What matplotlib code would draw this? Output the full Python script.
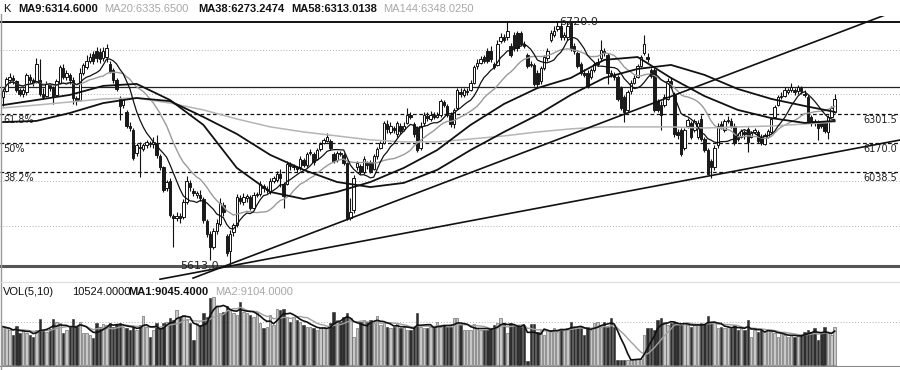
import numpy as np
import pandas as pd
import matplotlib
matplotlib.use("Agg")
import matplotlib.pyplot as plt

# --- daily K-line data ---
opens = [6380, 6405, 6455, 6468, 6450, 6410, 6395, 6400, 6470, 6455,
         6450, 6455, 6395, 6385, 6435, 6420, 6390, 6445, 6510, 6470,
         6480, 6455, 6375, 6365, 6490, 6515, 6545, 6575, 6590, 6585,
         6555, 6560, 6530, 6500, 6455, 6370, 6345, 6310, 6250, 6230,
         6125, 6155, 6145, 6160, 6170, 6165, 6170, 6110, 6060, 5965,
         6000, 5840, 5830, 5840, 5835, 5905, 5990, 5955, 5935, 5935,
         5915, 5815, 5760, 5700, 5770, 5805, 5890, 5750, 5680, 5765,
         5800, 5920, 5905, 5920, 5925, 5875, 5935, 5940, 5975, 5960,
         5950, 6000, 6005, 6030, 5985, 5985, 6075, 6060, 6060, 6060,
         6095, 6070, 6125, 6120, 6100, 6145, 6170, 6180, 6180, 6120,
         6095, 6125, 6115, 6080, 5830, 5865, 6060, 6065, 6040, 6080,
         6085, 6055, 6110, 6150, 6170, 6255, 6220, 6240, 6210, 6250,
         6235, 6260, 6300, 6255, 6240, 6150, 6260, 6295, 6280, 6300,
         6290, 6300, 6355, 6340, 6300, 6255, 6330, 6400, 6390, 6400,
         6410, 6445, 6520, 6535, 6560, 6590, 6590, 6530, 6525, 6635,
         6650, 6650, 6610, 6660, 6670, 6670, 6620, 6570, 6530, 6525,
         6490, 6450, 6510, 6555, 6640, 6660, 6690, 6700, 6650, 6650,
         6715, 6610, 6580, 6530, 6490, 6490, 6470, 6500, 6530, 6555,
         6590, 6570, 6490, 6480, 6470, 6420, 6380, 6320, 6405, 6445,
         6470, 6520, 6580, 6560, 6500, 6500, 6360, 6345, 6345, 6370,
         6450, 6390, 6220, 6230, 6150, 6250, 6260, 6230, 6200, 6280,
         6190, 6140, 6090, 6060, 6160, 6255, 6230, 6270, 6270, 6250,
         6200, 6200, 6220, 6235, 6200, 6220, 6220, 6200, 6165, 6200,
         6220, 6290, 6345, 6380, 6385, 6400, 6410, 6410, 6405, 6420,
         6395, 6380, 6290, 6270, 6265, 6260, 6260, 6220, 6290, 6310]
highs = [6415, 6470, 6490, 6480, 6455, 6420, 6420, 6490, 6485, 6465,
         6555, 6550, 6420, 6450, 6445, 6430, 6460, 6525, 6530, 6500,
         6490, 6470, 6385, 6510, 6535, 6570, 6580, 6590, 6605, 6600,
         6605, 6620, 6545, 6510, 6465, 6385, 6375, 6320, 6265, 6240,
         6170, 6175, 6170, 6185, 6180, 6200, 6205, 6120, 6065, 6005,
         6010, 5850, 5860, 5855, 5915, 6020, 6005, 5965, 5955, 5960,
         5925, 5825, 5770, 5785, 5825, 5920, 5905, 5760, 5775, 5810,
         5940, 5935, 5945, 5940, 5935, 5950, 5950, 6000, 5985, 5975,
         6010, 6020, 6045, 6055, 5995, 6090, 6085, 6075, 6065, 6110,
         6105, 6130, 6145, 6130, 6150, 6175, 6195, 6215, 6190, 6130,
         6135, 6135, 6125, 6085, 5920, 6025, 6090, 6075, 6110, 6090,
         6095, 6120, 6155, 6180, 6270, 6275, 6265, 6250, 6270, 6260,
         6265, 6330, 6310, 6265, 6250, 6265, 6310, 6310, 6315, 6310,
         6310, 6370, 6365, 6350, 6310, 6330, 6420, 6420, 6420, 6420,
         6455, 6525, 6550, 6565, 6570, 6600, 6610, 6540, 6640, 6670,
         6665, 6720, 6625, 6675, 6680, 6680, 6635, 6580, 6545, 6535,
         6500, 6520, 6570, 6600, 6685, 6700, 6725, 6715, 6675, 6720,
         6725, 6625, 6590, 6540, 6505, 6500, 6510, 6540, 6555, 6640,
         6600, 6580, 6500, 6495, 6480, 6430, 6390, 6410, 6455, 6480,
         6530, 6570, 6660, 6580, 6510, 6510, 6370, 6360, 6395, 6465,
         6470, 6400, 6235, 6240, 6240, 6285, 6270, 6280, 6275, 6300,
         6200, 6150, 6100, 6160, 6260, 6270, 6280, 6295, 6285, 6260,
         6215, 6235, 6230, 6245, 6225, 6240, 6230, 6210, 6215, 6235,
         6290, 6345, 6390, 6400, 6425, 6420, 6445, 6420, 6435, 6430,
         6410, 6390, 6300, 6280, 6275, 6270, 6270, 6300, 6340, 6395]
lows = [6340, 6400, 6445, 6440, 6400, 6385, 6380, 6390, 6445, 6430,
        6445, 6385, 6370, 6380, 6405, 6350, 6385, 6440, 6460, 6455,
        6440, 6350, 6345, 6360, 6480, 6505, 6535, 6530, 6540, 6535,
        6545, 6540, 6490, 6445, 6405, 6275, 6330, 6240, 6225, 6095,
        6110, 6015, 6135, 6150, 6155, 6150, 6105, 6050, 5950, 5955,
        5835, 5700, 5815, 5810, 5825, 5895, 5955, 5930, 5920, 5910,
        5810, 5745, 5640, 5690, 5760, 5795, 5840, 5660, 5613, 5750,
        5790, 5895, 5890, 5905, 5865, 5865, 5925, 5930, 5950, 5945,
        5940, 5990, 5995, 5970, 5875, 5980, 6050, 6050, 6040, 6050,
        6060, 6060, 6115, 6070, 6095, 6135, 6165, 6175, 6140, 6080,
        6085, 6110, 6070, 5820, 5820, 5855, 6050, 6030, 6030, 6055,
        6035, 6050, 6100, 6145, 6165, 6215, 6210, 6215, 6200, 6210,
        6225, 6255, 6280, 6200, 6130, 6140, 6250, 6270, 6270, 6280,
        6285, 6290, 6335, 6290, 6245, 6240, 6320, 6380, 6380, 6390,
        6405, 6440, 6505, 6530, 6535, 6535, 6540, 6505, 6520, 6625,
        6630, 6640, 6560, 6590, 6590, 6610, 6600, 6510, 6515, 6430,
        6420, 6440, 6500, 6545, 6630, 6650, 6680, 6640, 6640, 6640,
        6590, 6575, 6510, 6480, 6470, 6420, 6460, 6495, 6520, 6545,
        6565, 6440, 6470, 6455, 6360, 6320, 6265, 6310, 6395, 6440,
        6465, 6515, 6570, 6540, 6465, 6310, 6310, 6230, 6335, 6365,
        6420, 6200, 6190, 6110, 6140, 6240, 6190, 6220, 6190, 6180,
        6130, 6025, 6010, 6050, 6150, 6235, 6220, 6260, 6240, 6160,
        6180, 6195, 6190, 6130, 6195, 6210, 6170, 6160, 6160, 6195,
        6215, 6285, 6340, 6370, 6380, 6395, 6400, 6390, 6395, 6395,
        6380, 6260, 6250, 6250, 6185, 6240, 6215, 6190, 6285, 6305]
closes = [6405, 6460, 6470, 6455, 6410, 6395, 6410, 6480, 6455, 6445,
          6530, 6395, 6380, 6440, 6420, 6385, 6450, 6515, 6470, 6490,
          6455, 6375, 6360, 6490, 6525, 6545, 6560, 6545, 6555, 6550,
          6590, 6600, 6495, 6455, 6415, 6340, 6365, 6250, 6240, 6105,
          6160, 6150, 6160, 6175, 6165, 6175, 6115, 6060, 5960, 5995,
          5845, 5830, 5840, 5830, 5905, 6000, 5970, 5945, 5945, 5920,
          5820, 5760, 5700, 5770, 5810, 5900, 5860, 5670, 5760, 5800,
          5925, 5910, 5925, 5930, 5875, 5935, 5940, 5985, 5965, 5960,
          6000, 6010, 6030, 6010, 5930, 6075, 6065, 6065, 6055, 6100,
          6070, 6120, 6130, 6085, 6140, 6165, 6185, 6200, 6150, 6090,
          6125, 6120, 6080, 5830, 5860, 6010, 6080, 6040, 6100, 6070,
          6045, 6110, 6145, 6170, 6260, 6235, 6250, 6230, 6260, 6225,
          6250, 6300, 6290, 6210, 6140, 6250, 6300, 6285, 6300, 6290,
          6300, 6360, 6345, 6300, 6255, 6320, 6410, 6395, 6410, 6405,
          6445, 6515, 6535, 6550, 6545, 6545, 6550, 6515, 6620, 6650,
          6640, 6680, 6570, 6600, 6600, 6620, 6610, 6520, 6525, 6440,
          6440, 6510, 6560, 6590, 6670, 6680, 6700, 6650, 6660, 6700,
          6600, 6590, 6520, 6490, 6480, 6430, 6500, 6530, 6540, 6595,
          6580, 6490, 6480, 6470, 6370, 6330, 6310, 6400, 6445, 6465,
          6520, 6560, 6620, 6550, 6475, 6320, 6320, 6300, 6380, 6450,
          6440, 6210, 6205, 6120, 6230, 6275, 6200, 6270, 6260, 6190,
          6140, 6030, 6060, 6150, 6250, 6245, 6270, 6275, 6250, 6170,
          6190, 6225, 6210, 6175, 6215, 6230, 6180, 6170, 6205, 6225,
          6280, 6335, 6380, 6385, 6410, 6410, 6425, 6400, 6425, 6405,
          6390, 6270, 6260, 6260, 6240, 6250, 6225, 6290, 6330, 6370]
volumes = [10700, 10200, 9800, 8400, 10900, 8800, 9800, 9000, 8400, 7900,
           9800, 12700, 9800, 9300, 10000, 12700, 12100, 11800, 8800, 9800,
           10700, 12700, 10700, 12100, 8800, 9000, 8400, 7400, 11600, 10700,
           11400, 11200, 11600, 10700, 11400, 11600, 10700, 10200, 9800, 10700,
           9800, 11200, 13700, 10700, 7900, 9800, 11600, 10200, 11800, 12100,
           13000, 12500, 15300, 13500, 13900, 12500, 11600, 7000, 11600, 11200,
           14400, 13500, 18600, 19000, 16200, 14400, 14900, 16600, 15300, 14400,
           13900, 17600, 14900, 14400, 13900, 13500, 14900, 11600, 10200, 10700,
           13900, 11200, 15700, 15300, 15700, 13500, 12100, 13500, 12500, 12100,
           11200, 10700, 10700, 10200, 9800, 10200, 10700, 10200, 11600, 14900,
           12500, 12100, 13500, 14400, 13000, 7900, 10200, 12100, 12500, 12100,
           12500, 11600, 13700, 11200, 11600, 10700, 10200, 10700, 11600, 10200,
           10700, 9800, 9800, 10700, 14400, 10700, 10200, 10200, 10700, 10200,
           12100, 10700, 11200, 10700, 10700, 13000, 13000, 11200, 9800, 9800,
           9800, 11300, 10200, 9800, 9800, 9800, 10200, 11200, 11600, 13200,
           11600, 8800, 11600, 11200, 11200, 10700, 11200, 1200, 11300, 11300,
           9300, 9800, 8400, 9800, 9800, 10200, 9800, 9800, 9800, 10200,
           12100, 10700, 10200, 10700, 8400, 10700, 9800, 11600, 12100, 10700,
           12100, 10700, 13000, 10700, 1300, 1300, 1400, 1500, 1600, 1600,
           1700, 1800, 8400, 10200, 10200, 9800, 12500, 13000, 12100, 11200,
           11600, 12100, 11200, 11200, 11600, 11200, 10700, 11200, 11200, 11600,
           11400, 13700, 11600, 11600, 10200, 10700, 10200, 10700, 10200, 11200,
           9800, 10200, 9800, 12500, 7900, 9800, 9300, 9800, 9300, 9800,
           9300, 8800, 7900, 8800, 8400, 7900, 8400, 7900, 8100, 8400,
           9300, 9800, 9300, 10200, 7000, 8800, 10700, 8800, 8400, 10524]

# long moving averages, read at every 10th bar
ma_idx = [0, 10, 20, 30, 40, 50, 60, 70, 80, 90, 100, 110, 120,
          130, 140, 150, 160, 170, 180, 190, 200, 210, 220, 230, 240, 249]
ma38 = [6343, 6366, 6389, 6430, 6439, 6366, 6253, 6058, 5949, 5917, 5949, 5994, 6058,
        6139, 6253, 6348, 6420, 6466, 6548, 6561, 6466, 6384, 6321, 6284, 6262, 6271]
ma58 = [6266, 6271, 6307, 6352, 6375, 6361, 6289, 6212, 6117, 6049, 5994, 5971, 5990,
        6049, 6139, 6221, 6298, 6389, 6466, 6507, 6525, 6480, 6416, 6371, 6339, 6312]
ma144 = [6330, 6343, 6357, 6371, 6375, 6352, 6321, 6280, 6244, 6221, 6203, 6185, 6176,
         6176, 6189, 6203, 6221, 6235, 6244, 6244, 6244, 6239, 6244, 6248, 6257, 6266]

hi_price = 6720.0
lo_price = 5613.0
mid_price = 6425.0
fib_prices = [6301.5, 6170.0, 6038.5]
fib_names = ['61.8%', '50%', '38.2%']
grid_prices = [6591, 6393, 6000, 5794]
# trend lines: (start bar, start price), slope per bar
trend_lines = [(56.9, 5558.0, 5.76), (47.0, 5553.0, 2.85)]

W, H = 900, 370
fig = plt.figure(figsize=(W / 100, H / 100), dpi=100)
fig.patch.set_facecolor('white')


def ftxt(x, y, s, **kw):
    kw.setdefault('va', 'center')
    kw.setdefault('fontsize', 8)
    fig.text(x / W, 1 - y / H, s, **kw)


n = len(closes)
idx = np.arange(n)
o = np.array(opens, float)
c = np.array(closes, float)
hh = np.array(highs, float)
ll = np.array(lows, float)
up = c >= o
x_left = -3 / 3.34
x_right = (W - 3) / 3.34

# ---------- price panel ----------
ax = fig.add_axes([0, 1 - 280 / H, 1, 264 / H])
ax.set_xlim(x_left, x_right)
ax.set_ylim(5549.5, 6747)
ax.axis('off')

for g in grid_prices:
    ax.axhline(g, color='#b0b0b0', lw=0.7, ls=(0, (1, 2)), zorder=1)
for f in fib_prices:
    ax.axhline(f, color='#111111', lw=0.9, ls=(0, (3, 2)), zorder=1)
ax.axhline(hi_price, color='#111111', lw=1.4, zorder=1)
ax.axhline(mid_price, color='#222222', lw=0.9, zorder=1)
ax.axhline(lo_price, color='#555555', lw=2.2, zorder=1)

ax.vlines(idx, ll, hh, color='#111111', lw=0.8, zorder=2)
body = np.abs(c - o)
body = np.where(body < 2, 2, body)
ax.bar(idx[up], body[up], bottom=np.minimum(o, c)[up], width=0.72,
       facecolor='white', edgecolor='#111111', lw=0.7, zorder=3)
ax.bar(idx[~up], body[~up], bottom=np.minimum(o, c)[~up], width=0.72,
       facecolor='#1a1a1a', edgecolor='#1a1a1a', lw=0.7, zorder=3)

s = pd.Series(c)
ax.plot(idx, s.rolling(20, min_periods=1).mean(), color='#9a9a9a', lw=1.0, zorder=4)
ax.plot(ma_idx, ma144, color='#b5b5b5', lw=1.1, zorder=4)
ax.plot(ma_idx, ma58, color='#111111', lw=1.3, zorder=4)
ax.plot(ma_idx, ma38, color='#111111', lw=1.3, zorder=4)
ax.plot(idx, s.rolling(9, min_periods=1).mean(), color='#111111', lw=0.9, zorder=4)

for x0, p0, k in trend_lines:
    xs = np.array([x0, x_right])
    ax.plot(xs, p0 + k * (xs - x0), color='#111111', lw=1.2, zorder=5)

ax.text(int(np.argmax(hh)) + 0.4, hi_price, '6720.0', fontsize=8,
        va='center', ha='left', color='#222222', zorder=6)
ax.text(int(np.argmin(ll)) - 3.3, lo_price, '5613.0', fontsize=8,
        va='center', ha='right', color='#222222', zorder=6)
for f, name in zip(fib_prices, fib_names):
    ax.text(x_left + 1, f - 26, name, fontsize=7, va='center', ha='left', color='#222222')
    ax.text(x_right - 1, f - 26, '%.1f' % f, fontsize=7, va='center', ha='right', color='#222222')

# ---------- volume panel ----------
vx = fig.add_axes([0, 1 - 367 / H, 1, 84 / H])
vx.set_xlim(x_left, x_right)
vx.set_ylim(-558, 22878)
vx.axis('off')
v = np.array(volumes, float)
vx.axhline(12000, color='#b0b0b0', lw=0.7, ls=(0, (1, 2)), zorder=1)
vx.bar(idx[up], v[up], width=0.72, facecolor='#c8c8c8', edgecolor='#555555', lw=0.4, zorder=2)
vx.bar(idx[~up], v[~up], width=0.72, facecolor='#2e2e2e', edgecolor='#2e2e2e', lw=0.4, zorder=2)
vs = pd.Series(v)
vx.plot(idx, vs.rolling(10, min_periods=1).mean(), color='#a0a0a0', lw=1.0, zorder=3)
vx.plot(idx, vs.rolling(5, min_periods=1).mean(), color='#111111', lw=1.2, zorder=3)
vx.axhline(-558, color='#888888', lw=1.5)

# panel borders
fig.add_artist(plt.Line2D([1 / W, 1 / W], [0, 1 - 14 / H], color='#999999', lw=1.0))
fig.add_artist(plt.Line2D([0, 1], [1 - 282 / H] * 2, color='#dddddd', lw=0.8))

# ---------- header texts ----------
fam = ['Liberation Sans', 'DejaVu Sans']
ftxt(3, 9, 'K', color='#111111', family=fam)
ftxt(18, 9, 'MA9:6314.6000', color='#111111', weight='bold', family=fam)
ftxt(104, 9, 'MA20:6335.6500', color='#a8a8a8', family=fam)
ftxt(198, 9, 'MA38:6273.2474', color='#111111', weight='bold', family=fam)
ftxt(291, 9, 'MA58:6313.0138', color='#111111', weight='bold', family=fam)
ftxt(383, 9, 'MA144:6348.0250', color='#a8a8a8', family=fam)

ftxt(3, 292, 'VOL(5,10)', color='#111111', family=fam)
ftxt(72, 292, '10524.0000', color='#111111', family=fam)
ftxt(128, 292, 'MA1:9045.4000', color='#111111', weight='bold', family=fam)
ftxt(215, 292, 'MA2:9104.0000', color='#a8a8a8', family=fam)

fig.savefig('out.png', dpi=100, facecolor='white')
